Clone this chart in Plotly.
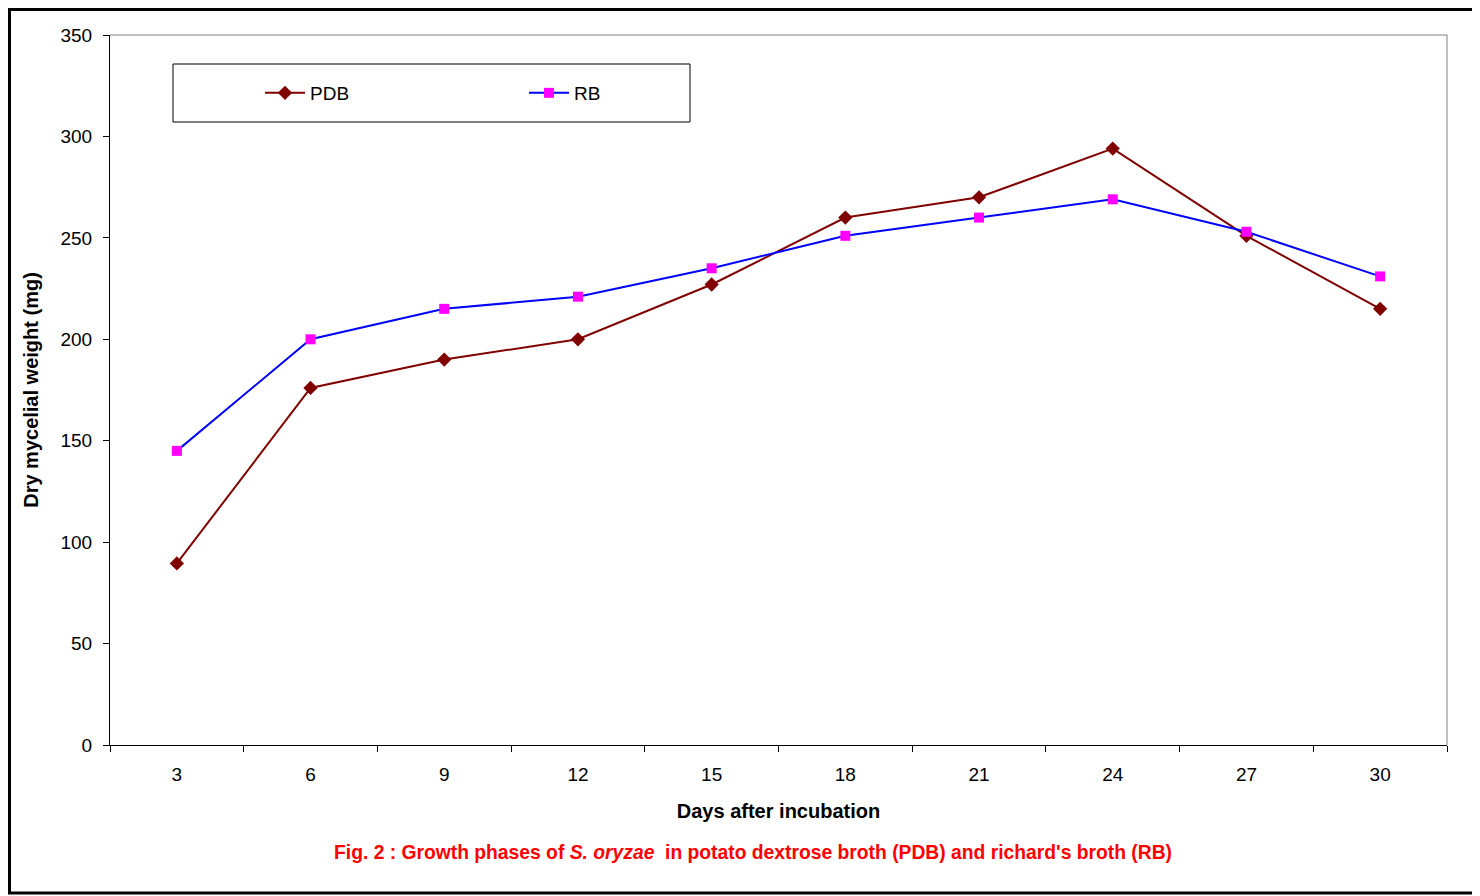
import plotly.graph_objects as go

days = ["3", "6", "9", "12", "15", "18", "21", "24", "27", "30"]
pdb = [89.5, 176, 190, 200, 227, 260, 270, 294, 251, 215]
rb = [145, 200, 215, 221, 235, 251, 260, 269, 253, 231]
y_ticks = [0, 50, 100, 150, 200, 250, 300, 350]

# page is rendered with an 8px body margin, so the figure is offset by 8px
OFF = 8
W, H = 1480 - OFF, 896 - OFF
L, R, T, B = 110 - OFF, 33, 35 - OFF, 151
pw, ph = W - L - R, H - T - B

def px(x):  # page pixel -> paper x
    return (x - OFF - L) / pw

def py(y):  # page pixel -> paper y
    return (H - B - (y - OFF)) / ph

fig = go.Figure()
fig.add_trace(go.Scatter(x=days, y=pdb, name="PDB", mode="lines+markers",
                         line=dict(color="#800000", width=2),
                         marker=dict(symbol="diamond", size=11, color="#800000")))
fig.add_trace(go.Scatter(x=days, y=rb, name="RB", mode="lines+markers",
                         line=dict(color="#0000FF", width=2),
                         marker=dict(symbol="square", size=10, color="#FF00FF")))

fig.update_layout(
    width=W, height=H,
    margin=dict(l=L, r=R, t=T, b=B),
    paper_bgcolor="white", plot_bgcolor="white",
    font=dict(family="Liberation Sans, Arial, sans-serif", size=19, color="black"),
    showlegend=True,
    legend=dict(orientation="h", x=px(260), y=py(93), yanchor="middle", xanchor="left",
                bgcolor="rgba(0,0,0,0)", entrywidth=209, entrywidthmode="pixels",
                itemwidth=40, font=dict(size=19)),
    xaxis=dict(type="category", range=[-0.5, len(days) - 0.5], tickson="boundaries",
               ticks="outside", ticklen=6,
               tickcolor="black", showline=True, linecolor="black", linewidth=1,
               showgrid=False, zeroline=False, ticklabelstandoff=12,
               title=dict(text="<b>Days after incubation</b>", font=dict(size=20), standoff=20),
               tickfont=dict(size=19)),
    yaxis=dict(range=[0, 350], tickvals=y_ticks, ticks="outside", ticklen=6,
               tickcolor="black", showline=True, linecolor="black", linewidth=1,
               showgrid=False, zeroline=False, ticklabelstandoff=7,
               title=dict(text="<b>Dry mycelial weight (mg)</b>", font=dict(size=20), standoff=16),
               tickfont=dict(size=19)),
)

shapes = [
    dict(type="line", xref="paper", yref="paper", x0=0, x1=1, y0=1, y1=1,
         line=dict(color="#808080", width=1)),
    dict(type="line", xref="paper", yref="paper", x0=1, x1=1, y0=0, y1=1,
         line=dict(color="#808080", width=1)),
    dict(type="rect", xref="paper", yref="paper", x0=px(173), x1=px(690),
         y0=py(122), y1=py(64), line=dict(color="black", width=1),
         fillcolor="rgba(0,0,0,0)"),
    dict(type="rect", xref="paper", yref="paper", x0=px(OFF + 1.5), x1=px(1477),
         y0=py(893), y1=py(OFF + 1.5), line=dict(color="black", width=3),
         fillcolor="rgba(0,0,0,0)"),
]
fig.update_layout(shapes=shapes)

fig.add_annotation(
    text="<b>Fig. 2 : Growth phases of <i>S. oryzae</i>  in potato dextrose broth (PDB) and richard's broth (RB)</b>",
    xref="paper", yref="paper", x=px(753), y=py(852), xanchor="center", yanchor="middle",
    showarrow=False,
    font=dict(family="Liberation Sans, Arial, sans-serif", size=19.3, color="#FF0000"))

fig.write_html("out.html")
